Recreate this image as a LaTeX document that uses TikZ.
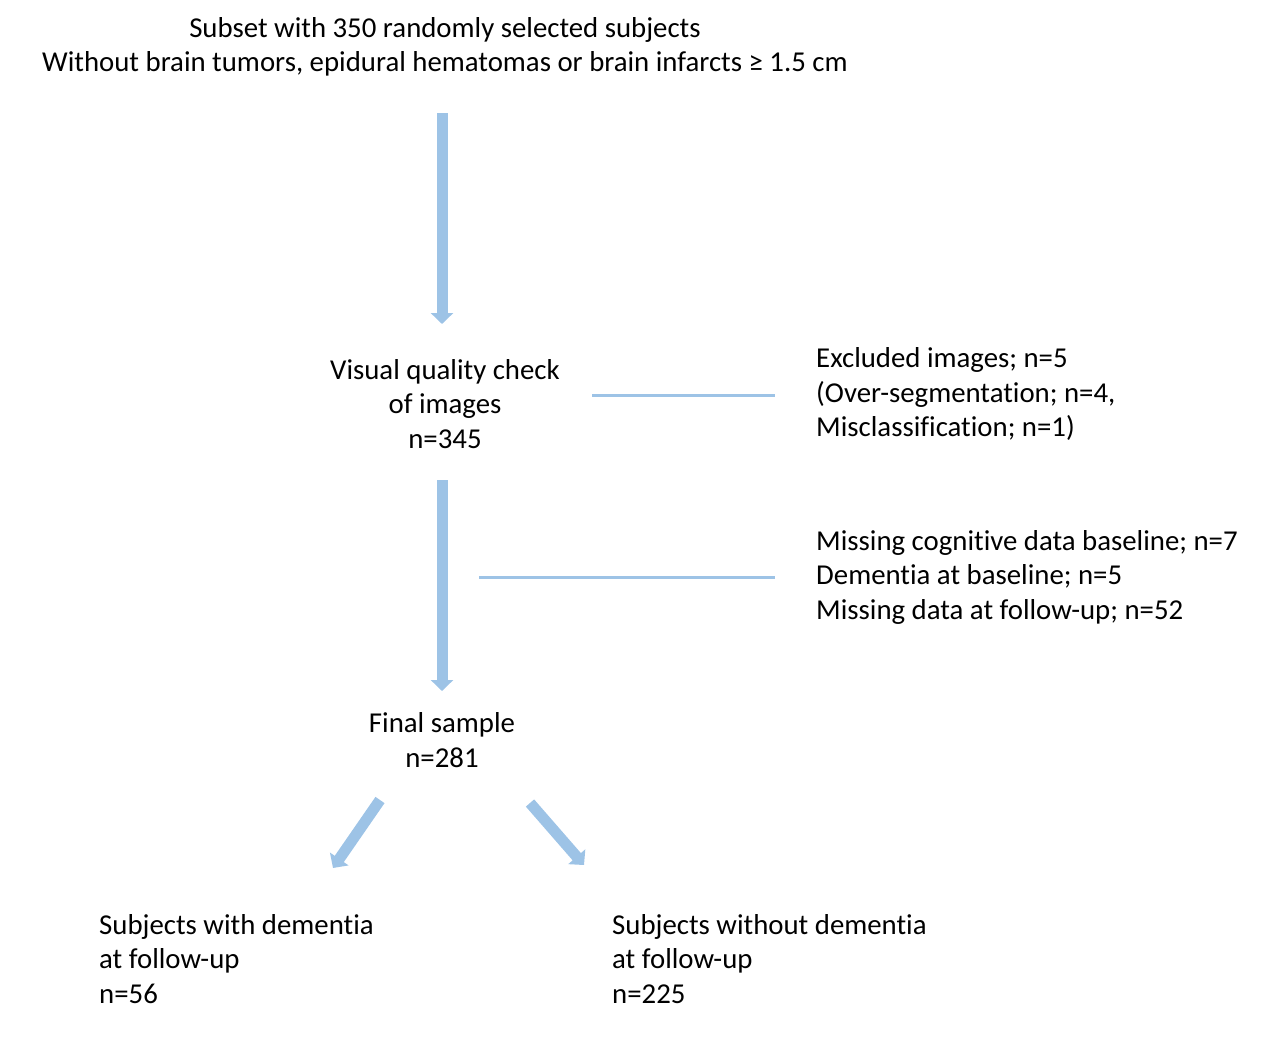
\documentclass[tikz,border=0pt]{standalone}
\usepackage{fontspec}
\setmainfont{Carlito}[Ligatures={NoCommon}]
\usetikzlibrary{arrows.meta}
\definecolor{flowblue}{HTML}{9DC3E6}
\begin{document}
\begin{tikzpicture}[x=1pt,y=-1pt,
  txt/.style={inner sep=0pt,font=\fontsize{28.8}{34.5}\selectfont},
  ctxt/.style={txt,align=center},
  ltxt/.style={txt,align=left,anchor=west},
  bigarrow/.style={flowblue,line width=11pt,-{Triangle[width=22pt,length=11pt]}},
  sideline/.style={flowblue,line width=3pt}]
\useasboundingbox (0,0) rectangle (1269,1045);
\node[ctxt] (top) at (445,47) {Subset with 350 randomly selected subjects\\Without brain tumors, epidural hematomas or brain infarcts \char"2265\ 1.5 cm};
\node[ctxt] (visual) at (445,404) {Visual quality check\\of images\\n=345};
\node[ltxt] (excl) at (816,394) {Excluded images; n=5\\(Over-segmentation; n=4,\\Misclassification; n=1)};
\node[ltxt] (miss) at (816,577) {Missing cognitive data baseline; n=7\\Dementia at baseline; n=5\\Missing data at follow-up; n=52};
\node[ctxt] (final) at (442,740) {Final sample\\n=281};
\node[ltxt] (dem) at (99,959) {Subjects with dementia\\at follow-up\\n=56};
\node[ltxt] (nodem) at (612,959) {Subjects without dementia\\at follow-up\\n=225};
\coordinate (a1s) at (442,113);
\coordinate (a1e) at (442,324);
\coordinate (a2s) at (442,480);
\coordinate (a2e) at (442,691);
\coordinate (a3s) at (380,800);
\coordinate (a3e) at (333,868);
\coordinate (a4s) at (530,803);
\coordinate (a4e) at (584,865);
\coordinate (l1s) at (592,395);
\coordinate (l1e) at (775,395);
\coordinate (l2s) at (479,577);
\coordinate (l2e) at (775,577);
\draw[bigarrow] (a1s) -- (a1e);
\draw[bigarrow] (a2s) -- (a2e);
\draw[bigarrow] (a3s) -- (a3e);
\draw[bigarrow] (a4s) -- (a4e);
\draw[sideline] (l1s) -- (l1e);
\draw[sideline] (l2s) -- (l2e);
\end{tikzpicture}
\end{document}
